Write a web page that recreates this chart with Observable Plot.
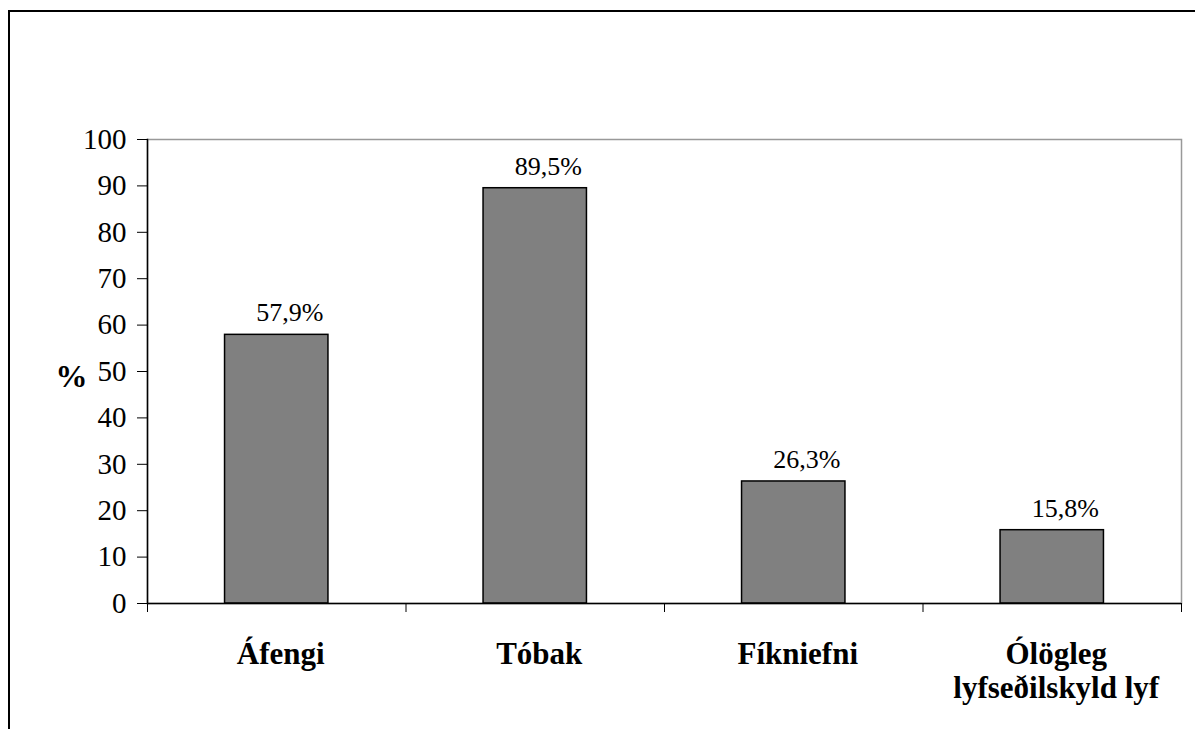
<!DOCTYPE html>
<html>
<head>
<meta charset="utf-8">
<script src="https://cdn.jsdelivr.net/npm/d3@7"></script>
<script src="https://cdn.jsdelivr.net/npm/@observablehq/plot@0.6"></script>
<style>
  html, body { margin: 0; padding: 0; background: #fff; }
  #chart { position: relative; width: 1195px; height: 729px; overflow: hidden; }
  #outline { position: absolute; left: 8px; top: 10px; right: -10px; bottom: -10px;
             border-left: 2px solid #000; border-top: 2px solid #000; }
  #chart svg { position: absolute; left: 0; top: 0; background: transparent; }
</style>
</head>
<body>
<div id="chart"><div id="outline"></div></div>
<script>
// Share of respondents (%) per substance category
const categories = ["Áfengi", "Tóbak", "Fíkniefni", "Ólögleg\nlyfseðilskyld lyf"];
const values = [57.9, 89.5, 26.3, 15.8];
const valueLabels = ["57,9%", "89,5%", "26,3%", "15,8%"];
const yTicks = [0, 10, 20, 30, 40, 50, 60, 70, 80, 90, 100];
// category boundaries on the index axis (tick marks between the groups)
const categoryEdges = [0, 1, 2, 3, 4];

const data = categories.map((name, i) => ({ i, name, value: values[i], label: valueLabels[i] }));

const plot = Plot.plot({
  width: 1195,
  height: 729,
  marginLeft: 147,
  marginRight: 14,
  marginTop: 139,
  marginBottom: 126,
  x: { type: "linear", domain: [0, categories.length] },
  y: { domain: [0, 100] },
  marks: [
    Plot.frame({ stroke: "#999", strokeWidth: 1.5 }),
    Plot.rect(data, {
      x1: d => d.i + 0.3, x2: d => d.i + 0.7, y1: 0, y2: "value",
      fill: "#808080", stroke: "#000", strokeWidth: 1.5
    }),
    Plot.ruleY([0], { stroke: "#000", strokeWidth: 1.5 }),
    Plot.frame({ anchor: "left", stroke: "#000", strokeWidth: 1.5 }),
    Plot.axisY({ ticks: yTicks, tickSize: 10, tickPadding: 11, fontSize: 29, fontFamily: "serif", label: null }),
    Plot.axisX({ ticks: categoryEdges, tickSize: 9, tickFormat: () => "", label: null }),
    Plot.text(data, {
      x: d => d.i + 0.5, y: "value", text: "label", dx: 13, dy: -22,
      fontSize: 26, fontFamily: "serif"
    }),
    Plot.text(data, {
      x: d => d.i + 0.5, y: 0, text: "name", lineAnchor: "top", dy: 37, dx: 4,
      fontSize: 31, fontWeight: "bold", fontFamily: "Tinos", lineHeight: 1.08
    }),
    Plot.text(["%"], { frameAnchor: "left", dx: -92, dy: 5, fontSize: 32, fontWeight: "bold", fontFamily: "serif" })
  ]
});
document.getElementById("chart").appendChild(plot);
// resolve text styles once the chart is in the document
plot.querySelectorAll("text").forEach(t => { void getComputedStyle(t).fontFamily; });
void document.body.offsetHeight;
</script>
</body>
</html>
